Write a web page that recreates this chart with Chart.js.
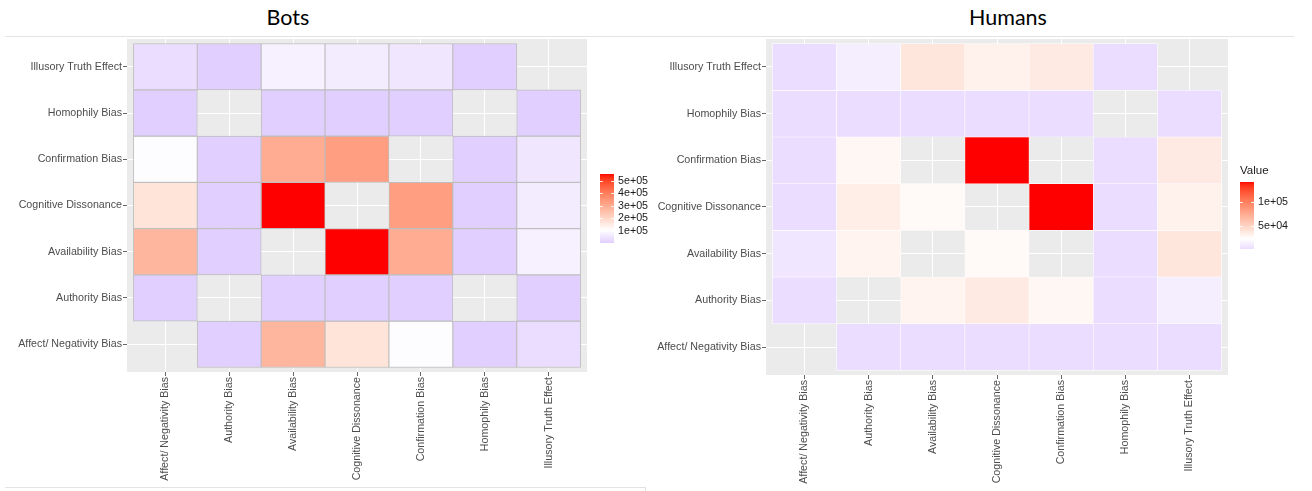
<!DOCTYPE html>
<html><head><meta charset="utf-8">
<script src="https://cdn.jsdelivr.net/npm/chart.js@4.4.1/dist/chart.umd.min.js"></script>
<style>
html,body{margin:0;padding:0;background:#fff;}
#wrap{position:relative;width:1312px;height:491px;overflow:hidden;background:#fff;}
.title{position:absolute;top:6px;width:200px;text-align:center;font-family:'Lato','Open Sans',sans-serif;font-weight:400;font-size:21.5px;line-height:22px;color:#000;}
.rule{position:absolute;background:#E3E3E3;}
canvas{position:absolute;top:0;}
</style></head>
<body><div id="wrap">
<div class="title" style="left:188px">Bots</div>
<div class="title" style="left:908px">Humans</div>
<canvas id="bots" width="656" height="491" style="left:0"></canvas>
<canvas id="humans" width="656" height="491" style="left:656px"></canvas>
<div class="rule" style="left:5px;top:36px;width:1289px;height:1px"></div>
<div class="rule" style="left:5px;top:487px;width:640px;height:1px"></div>
<div class="rule" style="left:645px;top:487px;width:1px;height:4px"></div>
</div>
<script>
// ---------------- data ----------------
const categories = ['Affect/ Negativity Bias','Authority Bias','Availability Bias','Cognitive Dissonance','Confirmation Bias','Homophily Bias','Illusory Truth Effect'];

// rows = y categories (bottom -> top), columns = x categories; null = no tile
const botsValues = [
  [null,   2000, 275000, 168000,  98000,   2000,  33000], // Affect/ Negativity Bias
  [  2000, null,   2000,   2000,   2000,   null,   2000], // Authority Bias
  [275000, 2000,   null, 553000, 298000,   2000,  74000], // Availability Bias
  [168000, 2000, 553000,   null, 329000,   2000,  64000], // Cognitive Dissonance
  [ 98000, 2000, 298000, 329000,   null,   2000,  53000], // Confirmation Bias
  [  2000, null,   2000,   2000,   2000,   null,   2000], // Homophily Bias
  [ 33000, 2000,  74000,  64000,  53000,   2000,   null]  // Illusory Truth Effect
];

const humansValues = [
  [null,  1500,  1500,   1500,   1500,  1500,  1500], // Affect/ Negativity Bias
  [1500,  null, 30000,  36000,  27800,  1500, 12000], // Authority Bias
  [7500, 30000,  null,  26600,   null,  1500, 38500], // Availability Bias
  [1500, 33700, 26600,   null, 142000,  1500, 32000], // Cognitive Dissonance
  [1500, 27800,  null, 142000,   null,  1500, 36000], // Confirmation Bias
  [1500,  1500,  1500,   1500,   1500,  null,  1500], // Homophily Bias
  [1500, 12000, 38500,  32000,  36000,  1500,  null]  // Illusory Truth Effect
];

const botsLegendTicks = [100000, 200000, 300000, 400000, 500000];
const humansLegendTicks = [50000, 100000];
const botsMidpoint = 105000;
const humansMidpoint = 23000;

// ---------------- colour helpers (Lab interpolation like ggplot) ----------------
function hexToRgb(h){ return [parseInt(h.slice(1,3),16), parseInt(h.slice(3,5),16), parseInt(h.slice(5,7),16)]; }
function s2l(c){ c/=255; return c<=0.04045 ? c/12.92 : Math.pow((c+0.055)/1.055,2.4); }
function l2s(c){ c = c<=0.0031308 ? 12.92*c : 1.055*Math.pow(c,1/2.4)-0.055; return Math.round(Math.max(0,Math.min(1,c))*255); }
function rgbToLab(rgb){
  const [r,g,b] = rgb.map(s2l);
  const X=(0.4124*r+0.3576*g+0.1805*b)/0.95047, Y=0.2126*r+0.7152*g+0.0722*b, Z=(0.0193*r+0.1192*g+0.9505*b)/1.08883;
  const f=t=>t>0.008856?Math.cbrt(t):7.787*t+16/116;
  const fx=f(X),fy=f(Y),fz=f(Z);
  return [116*fy-16, 500*(fx-fy), 200*(fy-fz)];
}
function labToRgb([L,a,b]){
  const fy=(L+16)/116, fx=fy+a/500, fz=fy-b/200;
  const fi=t=>t*t*t>0.008856 ? t*t*t : (t-16/116)/7.787;
  const X=fi(fx)*0.95047, Y=fi(fy), Z=fi(fz)*1.08883;
  return [l2s(3.2406*X-1.5372*Y-0.4986*Z), l2s(-0.9689*X+1.8758*Y+0.0415*Z), l2s(0.0557*X-0.2040*Y+1.0570*Z)];
}
function lerpLab(a,b,t){ return labToRgb([0,1,2].map(i=>a[i]+(b[i]-a[i])*t)); }
function makeColorScale(lowHex, midHex, highHex, vmin, vmid, vmax){
  const lo=rgbToLab(hexToRgb(lowHex)), mi=rgbToLab(hexToRgb(midHex)), hi=rgbToLab(hexToRgb(highHex));
  return v => {
    let c;
    if (v <= vmid) c = lerpLab(lo, mi, Math.max(0,(v - vmin)/(vmid - vmin)));
    else c = lerpLab(mi, hi, Math.min(1,(v - vmid)/(vmax - vmid)));
    return `rgb(${c[0]},${c[1]},${c[2]})`;
  };
}
function sci(v){ const e=Math.floor(Math.log10(v)); const m=Math.round(v/Math.pow(10,e)); return m+'e+'+String(e).padStart(2,'0'); }

// ---------------- plugins ----------------
const panelBg = {
  id:'panelBg',
  beforeDraw(chart){
    const {ctx, chartArea:a} = chart;
    ctx.save(); ctx.fillStyle='#EBEBEB'; ctx.fillRect(a.left,a.top,a.right-a.left,a.bottom-a.top); ctx.restore();
  }
};
function makeColorbar(cfg, colorOf, vmin, vmax, ticks){
  return {
    id:'colorbar_'+cfg.id,
    afterDraw(chart){
      const ctx = chart.ctx; const {x, top, w, h, title} = cfg.bar;
      ctx.save();
      const g = ctx.createLinearGradient(0, top+h, 0, top);
      const N = 60;
      for (let i=0;i<=N;i++){ g.addColorStop(i/N, colorOf(vmin + (vmax-vmin)*i/N)); }
      ctx.fillStyle = g; ctx.fillRect(x, top, w, h);
      ctx.font = '10.7px "Liberation Sans", Arial, sans-serif';
      ctx.textBaseline = 'middle'; ctx.textAlign = 'left';
      ticks.forEach(v => {
        const y = Math.round(top + h - (v - vmin)/(vmax - vmin)*h) + 0.5;
        ctx.strokeStyle = 'rgba(255,255,255,0.9)'; ctx.lineWidth = 1;
        ctx.beginPath(); ctx.moveTo(x, y); ctx.lineTo(x + w/5, y); ctx.moveTo(x + w - w/5, y); ctx.lineTo(x + w, y); ctx.stroke();
        ctx.fillStyle = '#1A1A1A';
        ctx.fillText(sci(v), x + w + 4, y);
      });
      if (title){ ctx.fillStyle='#1A1A1A'; ctx.font='11.5px "Liberation Sans", Arial, sans-serif'; ctx.fillText(title, x, top - 11); }
      ctx.restore();
    }
  };
}

// ---------------- chart builder ----------------
function makeHeatmap(canvasId, values, cfg){
  const flat = values.flat().filter(v => v !== null);
  const vmin = Math.min(...flat), vmax = Math.max(...flat);
  const colorOf = makeColorScale(cfg.low, '#FFFFFF', '#FF0000', vmin, cfg.mid, vmax);
  const points = [];
  values.forEach((row, r) => row.forEach((v, c) => { if (v !== null) points.push({x:c, y:[r-0.5, r+0.5], v}); }));
  const font = {family:'"Liberation Sans", Arial, sans-serif', size:10.7};
  const axisCommon = {
    type:'linear', min:-0.6, max:6.6, offset:false,
    afterBuildTicks: s => { s.ticks = categories.map((_,i)=>({value:i})); },
    grid:{color:'#FFFFFF', lineWidth:1, offset:false, drawTicks:true, tickLength:4, tickColor:'#666666', tickWidth:1},
    border:{display:false}
  };
  return new Chart(document.getElementById(canvasId), {
    type:'bar',
    data:{ datasets:[{
      data: points,
      backgroundColor: points.map(p => colorOf(p.v)),
      borderColor: cfg.border, borderWidth: cfg.borderWidth, borderSkipped:false,
      categoryPercentage:1, barPercentage:1
    }]},
    options:{
      responsive:false, animation:false, events:[],
      layout:{ padding:{ left:0, top:39, right:cfg.padRight, bottom:4 } },
      plugins:{ legend:{display:false}, tooltip:{enabled:false}, title:{display:false} },
      scales:{
        x: Object.assign({}, axisCommon, {
          ticks:{ callback:v => categories[v], autoSkip:false, minRotation:90, maxRotation:90, font, color:'#4D4D4D', padding:1 },
          afterFit: s => { s.height = cfg.xHeight; }
        }),
        y: Object.assign({}, axisCommon, {
          ticks:{ callback:v => categories[v], autoSkip:false, font, color:'#4D4D4D', padding:1 },
          afterFit: s => { s.width = cfg.yWidth; }
        })
      }
    },
    plugins:[panelBg, makeColorbar(cfg, colorOf, vmin, vmax, cfg.legendTicks)]
  });
}

makeHeatmap('bots', botsValues, {
  id:'bots', low:'#E0CFFF', mid:botsMidpoint, border:'#BEBEBE', borderWidth:0.9,
  yWidth:127, xHeight:115, padRight:69, legendTicks:botsLegendTicks,
  bar:{x:600, top:174, w:14, h:69, title:null}
});
makeHeatmap('humans', humansValues, {
  id:'humans', low:'#EBDDFF', mid:humansMidpoint, border:'#FFFFFF', borderWidth:0.6,
  yWidth:110, xHeight:112, padRight:84, legendTicks:humansLegendTicks,
  bar:{x:584, top:182, w:14, h:67, title:'Value'}
});
</script>
</body></html>
